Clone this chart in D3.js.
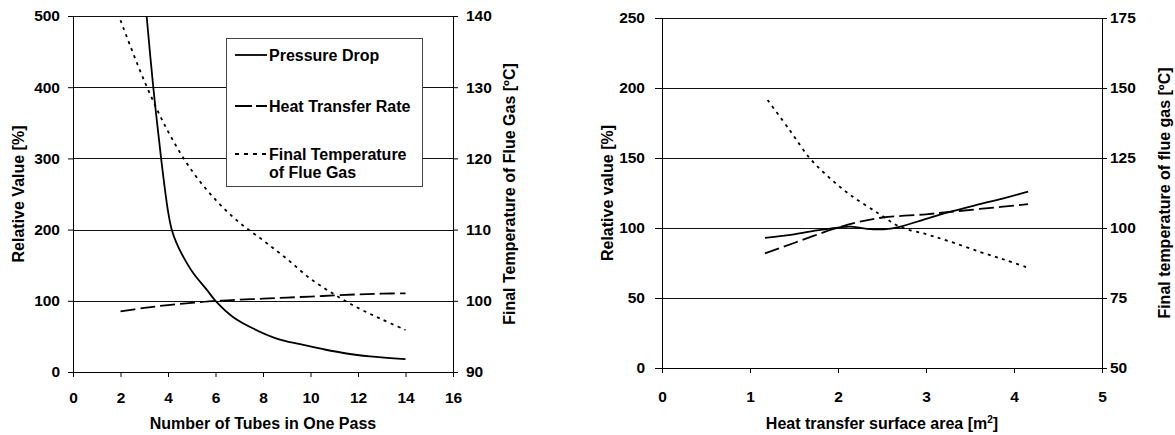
<!DOCTYPE html>
<html>
<head>
<meta charset="utf-8">
<script src="https://cdn.jsdelivr.net/npm/d3@7"></script>
<style>
  html, body { margin: 0; padding: 0; background: #fff; }
  svg { display: block; font-family: "Liberation Sans", Arial, sans-serif; font-weight: bold; }
</style>
</head>
<body>
<svg id="chart" width="1175" height="435"></svg>
<script>
// ---------- Left chart data ----------
const pdTubes = [3.1, 3.38, 3.71, 4.0, 4.15, 4.36, 4.64, 5.06, 5.62, 6.0, 6.75, 7.59, 8.58, 9.56, 10.54, 11.52, 12.5, 14];
const pdValues = [500, 400, 300, 226, 201, 181, 162, 139, 116, 100, 77, 61, 47, 39, 32, 26, 22, 18];
const htTubes = [2, 3, 4, 5, 6, 7, 8, 9, 10, 11, 12, 13, 14];
const htValues = [85, 90, 94, 97, 100, 101.5, 103, 104.5, 106, 107.5, 109, 110, 110.5];
const ftTubes = [2, 3, 4, 5, 6, 7, 8, 9, 10, 11, 12, 13, 14];
const ftValues = [139.4, 130.9, 123.8, 118.3, 114.2, 111.0, 108.5, 105.9, 103.1, 100.9, 99.0, 97.4, 95.9];
const leftXTicks = [0, 2, 4, 6, 8, 10, 12, 14, 16];
const leftYTicks = [0, 100, 200, 300, 400, 500];
const leftTTicks = [90, 100, 110, 120, 130, 140];
const legendLabels = [["Pressure Drop"], ["Heat Transfer Rate"], ["Final Temperature", "of Flue Gas"]];

// ---------- Right chart data ----------
const rsArea = [1.17, 1.5, 1.76, 2.0, 2.14, 2.33, 2.55, 2.7, 3.0, 3.24, 3.61, 3.9, 4.16];
const rsValues = [93, 95.5, 98.3, 100.3, 101, 99.4, 99.2, 100.8, 106.5, 111, 117, 121.5, 126];
const rdArea = [1.17, 1.5, 1.95, 2.25, 2.51, 3.0, 3.24, 3.61, 4.16];
const rdValues = [81.9, 89.3, 99.3, 104.5, 107.5, 109.8, 111.3, 113.6, 117];
const rtArea = [1.2, 1.45, 1.68, 1.89, 2.14, 2.46, 2.7, 3.0, 3.24, 3.61, 3.9, 4.16];
const rtValues = [145.7, 135, 124.9, 118.3, 111.8, 105.2, 100.5, 97.8, 95.5, 91.5, 88.6, 85.8];
const rightXTicks = [0, 1, 2, 3, 4, 5];
const rightYTicks = [0, 50, 100, 150, 200, 250];
const rightTTicks = [50, 75, 100, 125, 150, 175];

const svg = d3.select("#chart");
const FONT_TICK = 15.5;
const FONT_TITLE = 16;

const styles = {
  solid: { dash: null },
  dashed: { dash: "15,5" },
  dotted: { dash: "3,4.5" }
};

function styleAxis(g, fontSize) {
  g.select(".domain").attr("stroke", "#000").attr("stroke-width", 1);
  g.selectAll(".tick line").attr("stroke", "#000").attr("stroke-width", 1);
  g.selectAll(".tick text").attr("fill", "#000").attr("font-size", fontSize)
    .attr("font-family", "'Liberation Sans', Arial, sans-serif").attr("font-weight", "bold");
}

function drawChart(cfg) {
  const g = svg.append("g");
  const x = cfg.x, y = cfg.y, yt = cfg.yt;
  const [x0, x1] = x.range();
  const [yb, ytop] = y.range();
  const fmt = d3.format("d");

  // gridlines
  g.append("g").selectAll("line").data(cfg.yTicks.filter(d => d !== 0)).join("line")
    .attr("x1", x0).attr("x2", x1)
    .attr("y1", d => Math.round(y(d)) + 0.5).attr("y2", d => Math.round(y(d)) + 0.5)
    .attr("stroke", "#111").attr("stroke-width", 1);

  // axes
  const ax = g.append("g").attr("transform", `translate(0,${yb})`)
    .call(d3.axisBottom(x).tickValues(cfg.xTicks).tickFormat(fmt).tickSize(5).tickSizeOuter(0).tickPadding(cfg.xPad));
  styleAxis(ax, FONT_TICK);
  const ay = g.append("g").attr("transform", `translate(${x0},0)`)
    .call(d3.axisLeft(y).tickValues(cfg.yTicks).tickFormat(fmt).tickSize(cfg.lTick).tickSizeOuter(0).tickPadding(cfg.lPad));
  styleAxis(ay, FONT_TICK);
  const at = g.append("g").attr("transform", `translate(${x1},0)`)
    .call(d3.axisRight(yt).tickValues(cfg.tTicks).tickFormat(fmt).tickSize(5).tickSizeOuter(0).tickPadding(cfg.rPad));
  styleAxis(at, FONT_TICK);

  // clip
  const cid = "clip" + cfg.id;
  g.append("clipPath").attr("id", cid).append("rect")
    .attr("x", x0).attr("y", ytop - 1).attr("width", x1 - x0).attr("height", yb - ytop + 1);

  const lines = g.append("g").attr("clip-path", `url(#${cid})`);
  cfg.series.forEach(s => {
    const pts = s.xs.map((v, i) => [v, s.ys[i]]);
    const sc = s.axis === "t" ? yt : y;
    const line = d3.line().x(d => x(d[0])).y(d => sc(d[1])).curve(d3.curveCatmullRom.alpha(0.5));
    lines.append("path").datum(pts)
      .attr("d", line).attr("fill", "none").attr("stroke", "#000")
      .attr("stroke-width", 1.8)
      .attr("stroke-dasharray", styles[s.style].dash);
  });

  // titles
  const xt = g.append("text").attr("x", (x0 + x1) / 2).attr("y", cfg.xTitleY)
    .attr("text-anchor", "middle").attr("font-size", FONT_TITLE).text(cfg.xTitle);
  if (cfg.xTitleSup) {
    xt.append("tspan").attr("font-size", 10).attr("dy", -6).text(cfg.xTitleSup);
    xt.append("tspan").attr("dy", 6).text("]");
  }
  const midY = (yb + ytop) / 2;
  g.append("text").attr("transform", `translate(${cfg.lTitleX},${midY}) rotate(-90)`)
    .attr("text-anchor", "middle").attr("dominant-baseline", "central")
    .attr("font-size", FONT_TITLE).text(cfg.lTitle);
  g.append("text").attr("transform", `translate(${cfg.rTitleX},${midY}) rotate(-90)`)
    .attr("text-anchor", "middle").attr("dominant-baseline", "central")
    .attr("font-size", FONT_TITLE).text(cfg.rTitle);
  return g;
}

// Left chart
const xL = d3.scaleLinear().domain([0, 16]).range([73, 453]);
const yL = d3.scaleLinear().domain([0, 500]).range([372, 16]);
const tL = d3.scaleLinear().domain([90, 140]).range([372, 16]);
const gL = drawChart({
  id: "L", x: xL, y: yL, yt: tL,
  xTicks: leftXTicks, yTicks: leftYTicks, tTicks: leftTTicks,
  xPad: 15, lTick: 5, lPad: 8, rPad: 8,
  series: [
    { xs: pdTubes, ys: pdValues, axis: "y", style: "solid" },
    { xs: htTubes, ys: htValues, axis: "y", style: "dashed" },
    { xs: ftTubes, ys: ftValues, axis: "t", style: "dotted" }
  ],
  xTitle: "Number of Tubes in One Pass", xTitleY: 429,
  lTitle: "Relative Value [%]", lTitleX: 18,
  rTitle: "Final Temperature of Flue Gas [ºC]", rTitleX: 509
});

// Legend
const leg = gL.append("g");
leg.append("rect").attr("x", 226.5).attr("y", 38.5).attr("width", 196).attr("height", 148)
  .attr("fill", "#fff").attr("stroke", "#444").attr("stroke-width", 1);
const legRows = [55, 106, 154];
legendLabels.forEach((lines, i) => {
  const yy = legRows[i];
  leg.append("line").attr("x1", 235).attr("x2", 267).attr("y1", yy).attr("y2", yy)
    .attr("stroke", "#000").attr("stroke-width", 1.8)
    .attr("stroke-dasharray", i === 1 ? "17,4" : (i === 2 ? "4,5" : null));
  lines.forEach((t, j) => {
    leg.append("text").attr("x", 269).attr("y", yy + j * 18).attr("dominant-baseline", "central")
      .attr("font-size", 16).text(t);
  });
});

// Right chart
const xR = d3.scaleLinear().domain([0, 5]).range([662, 1102]);
const yR = d3.scaleLinear().domain([0, 250]).range([368, 18]);
const tR = d3.scaleLinear().domain([50, 175]).range([368, 18]);
drawChart({
  id: "R", x: xR, y: yR, yt: tR,
  xTicks: rightXTicks, yTicks: rightYTicks, tTicks: rightTTicks,
  xPad: 18, lTick: 7, lPad: 10, rPad: 3,
  series: [
    { xs: rsArea, ys: rsValues, axis: "y", style: "solid" },
    { xs: rdArea, ys: rdValues, axis: "y", style: "dashed" },
    { xs: rtArea, ys: rtValues, axis: "t", style: "dotted" }
  ],
  xTitle: "Heat transfer surface area [m", xTitleSup: "2", xTitleY: 429,
  lTitle: "Relative value [%]", lTitleX: 607,
  rTitle: "Final temperature of flue gas [ºC]", rTitleX: 1164
});
</script>
</body>
</html>
